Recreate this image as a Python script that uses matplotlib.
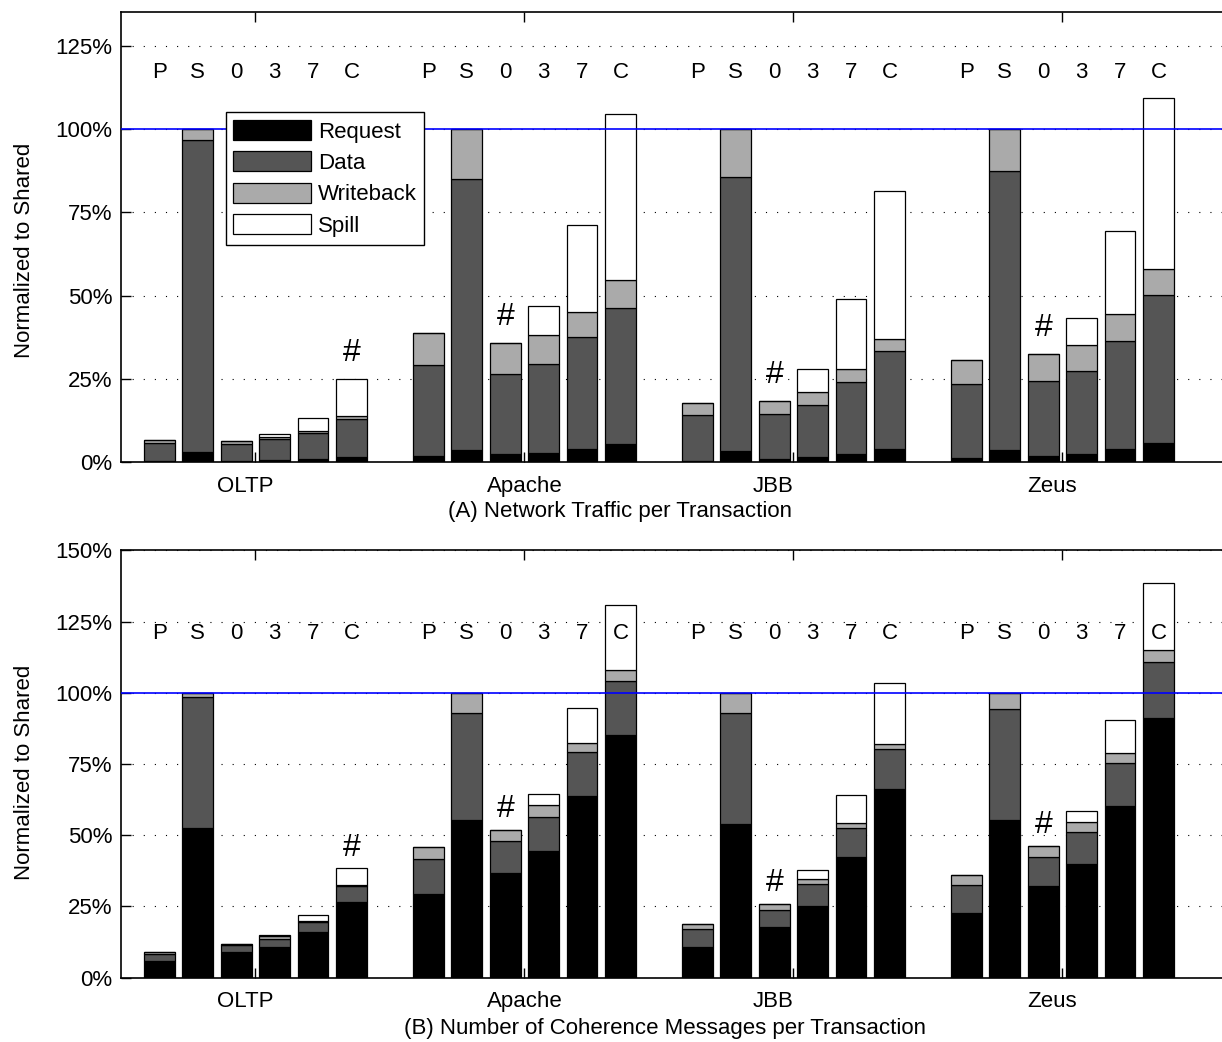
import numpy as np
import matplotlib
matplotlib.use("Agg")
import matplotlib.pyplot as plt
from matplotlib.patches import Patch

plt.rcParams['font.family'] = ['Liberation Sans', 'DejaVu Sans']

# Categories
GROUPS = ["OLTP", "Apache", "JBB", "Zeus"]
CONFIGS = ["P", "S", "0", "3", "7", "C"]
COMPONENTS = ["Request", "Data", "Writeback", "Spill"]

# (A) Network traffic per transaction, % of Shared (one row per group, one column per config)
traffic_request = [[0.3, 3.0, 0.5, 0.7, 1.0, 1.6],
                   [1.9, 3.6, 2.4, 2.9, 4.1, 5.6],
                   [0.5, 3.3, 1.0, 1.6, 2.6, 4.0],
                   [1.3, 3.6, 2.0, 2.6, 3.9, 5.8]]
traffic_data = [[5.4, 93.8, 5.0, 6.2, 7.7, 11.4],
                [27.3, 81.3, 24.2, 26.5, 33.6, 40.6],
                [13.6, 82.2, 13.5, 15.6, 21.5, 29.4],
                [22.2, 83.7, 22.4, 24.9, 32.6, 44.4]]
traffic_writeback = [[0.9, 3.2, 1.0, 0.8, 0.8, 1.0],
                     [9.5, 15.1, 9.1, 8.7, 7.4, 8.6],
                     [3.8, 14.5, 4.0, 4.0, 3.8, 3.7],
                     [7.1, 12.7, 8.0, 7.7, 7.9, 7.8]]
traffic_spill = [[0, 0, 0, 0.9, 3.8, 11.1],
                 [0, 0, 0, 8.9, 26.2, 49.7],
                 [0, 0, 0, 6.9, 21.1, 44.2],
                 [0, 0, 0, 8.1, 24.9, 51.3]]
traffic_hash = [5, 2, 2, 2]   # config marked with '#' in each group

# (B) Number of coherence messages per transaction, % of Shared
msg_request = [[5.8, 52.5, 8.9, 10.8, 16.0, 26.6],
               [29.2, 55.5, 36.8, 44.4, 63.7, 85.3],
               [10.8, 53.9, 17.6, 25.1, 42.3, 66.3],
               [22.5, 55.5, 32.1, 39.9, 60.2, 91.0]]
msg_data = [[2.5, 45.9, 2.4, 2.8, 3.4, 5.5],
            [12.5, 37.5, 11.1, 12.1, 15.4, 18.8],
            [6.2, 39.1, 6.2, 7.6, 10.3, 13.9],
            [10.1, 38.7, 10.1, 11.2, 15.0, 20.0]]
msg_writeback = [[0.8, 1.6, 0.6, 0.9, 0.5, 0.5],
                 [4.2, 7.0, 3.9, 4.2, 3.3, 3.9],
                 [1.9, 7.0, 2.0, 1.8, 1.7, 1.8],
                 [3.5, 5.8, 4.0, 3.6, 3.7, 4.0]]
msg_spill = [[0, 0, 0, 0.3, 2.2, 5.7],
             [0, 0, 0, 3.8, 12.1, 22.8],
             [0, 0, 0, 3.4, 9.9, 21.3],
             [0, 0, 0, 3.9, 11.5, 23.6]]
msg_hash = [5, 2, 2, 2]

COLORS = ["#000000", "#555555", "#aaaaaa", "#ffffff"]
BAR_STEP = 1 / 7
BAR_WIDTH = 0.8 / 7
FS = 16
# group names sit a little off the tick centre in the original
LABEL_SHIFT = np.array([-0.037, 0.0, -0.074, -0.037])


def draw_panel(ax, series, hashes, ymax, yticks, letter_y, hash_pad, xlabel):
    centers = np.arange(1, len(GROUPS) + 1)
    offsets = (np.arange(len(CONFIGS)) - 2.5) * BAR_STEP

    for g, c in enumerate(centers):
        x = c + offsets
        bottom = np.zeros(len(CONFIGS))
        for vals, color in zip(series, COLORS):
            v = np.array(vals[g], dtype=float)
            ax.bar(x, v, BAR_WIDTH, bottom=bottom, color=color,
                   edgecolor='black', linewidth=0.9, zorder=3)
            bottom += v
        for xi, cfg in zip(x, CONFIGS):
            ax.text(xi, letter_y, cfg, ha='center', va='center', fontsize=FS, zorder=6)
        h = hashes[g]
        ax.annotate('#', xy=(x[h], bottom[h]), xytext=(0, hash_pad),
                    textcoords='offset points', ha='center', va='bottom',
                    fontsize=23, zorder=6)

    ax.axhline(100, color='blue', linewidth=1.2, zorder=5)

    ax.set_xlim(0.5, 4.593)
    ax.set_ylim(0, ymax)
    ax.set_yticks(yticks)
    ax.set_yticklabels([f"{t}%" for t in yticks])
    # tick marks at group centres, names on (invisible) minor ticks
    ax.xaxis.remove_overlapping_locs = False
    ax.set_xticks(centers)
    ax.set_xticklabels([])
    ax.set_xticks(centers + LABEL_SHIFT, minor=True)
    ax.set_xticklabels(GROUPS, minor=True)
    ax.yaxis.grid(True, color='black', linestyle=(0, (1, 9)), linewidth=0.8, zorder=0)
    ax.set_axisbelow(True)
    ax.tick_params(axis='both', direction='in', length=7, width=1, labelsize=FS,
                   top=True, right=False)
    ax.tick_params(axis='x', which='minor', length=0, pad=9.5, labelsize=FS)
    ax.tick_params(axis='y', pad=6)
    ax.spines['right'].set_visible(False)
    for s in ['top', 'bottom', 'left']:
        ax.spines[s].set_linewidth(1.2)

    ax.set_ylabel("Normalized to Shared", fontsize=FS)
    ax.set_xlabel(xlabel, fontsize=FS)


fig = plt.figure(figsize=(12.22, 10.42), dpi=100)
ax1 = fig.add_axes([0.099, 0.5563, 0.901, 0.4319])
ax2 = fig.add_axes([0.099, 0.0619, 0.901, 0.4098])

draw_panel(ax1, [traffic_request, traffic_data, traffic_writeback, traffic_spill],
           traffic_hash, 135, [0, 25, 50, 75, 100, 125], 117.0, 8,
           "(A) Network Traffic per Transaction")
draw_panel(ax2, [msg_request, msg_data, msg_writeback, msg_spill],
           msg_hash, 150, [0, 25, 50, 75, 100, 125, 150], 121.0, 4,
           "(B) Number of Coherence Messages per Transaction")

handles = [Patch(facecolor=c, edgecolor='black', linewidth=0.9) for c in COLORS]
leg = ax1.legend(handles, COMPONENTS, loc='upper left', bbox_to_anchor=(0.095, 0.778),
                 borderaxespad=0, fancybox=False, edgecolor='black', framealpha=1,
                 handlelength=3.5, handleheight=1.0, labelspacing=0.4,
                 handletextpad=0.3, borderpad=0.35, fontsize=FS)
leg.get_frame().set_linewidth(1.0)
leg.set_zorder(7)

ax1.xaxis.set_label_coords(0.453, -0.087)
ax2.xaxis.set_label_coords(0.494, -0.094)
ax1.yaxis.set_label_coords(-0.078, 0.47)
ax2.yaxis.set_label_coords(-0.078, 0.48)

fig.savefig("out.png", dpi=100, facecolor='white')
